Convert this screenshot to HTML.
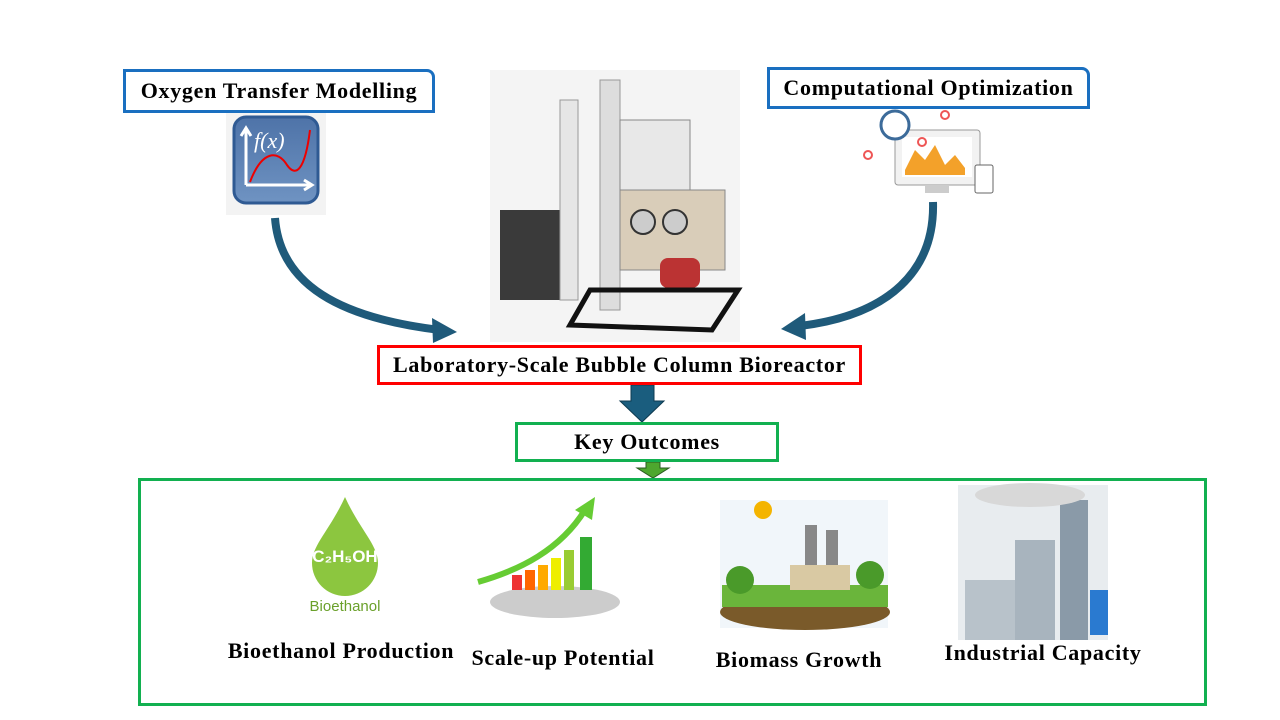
<!DOCTYPE html>
<html><head><style>
body{margin:0;width:1280px;height:720px;background:#fff;position:relative;overflow:hidden;font-family:"Liberation Serif",serif;}
.b{position:absolute;box-sizing:border-box;font-weight:bold;color:#000;display:flex;align-items:center;justify-content:center;background:#fff;letter-spacing:0.7px;}
.t{position:absolute;font-weight:bold;font-size:22px;letter-spacing:0.7px;white-space:nowrap;transform:translateX(-50%);}
</style></head><body>
<svg width="1280" height="720" style="position:absolute;left:0;top:0">
<defs>
<linearGradient id="fx" x1="0" y1="0" x2="0" y2="1"><stop offset="0" stop-color="#4e73a8"/><stop offset="1" stop-color="#6f93c2"/></linearGradient>
</defs>
<rect x="226" y="112" width="100" height="103" fill="#f3f3f3"/>
<rect x="234" y="117" width="84" height="86" rx="12" fill="url(#fx)" stroke="#2f5a93" stroke-width="3"/>
<path d="M246 185 L246 130 M241 136 L246 128 L251 136 M246 185 L310 185 M304 180 L312 185 L304 190" stroke="#fff" stroke-width="3" fill="none"/>
<text x="254" y="148" fill="#fff" font-size="22" font-style="italic" font-family="Liberation Serif">f(x)</text>
<path d="M250 182 C262 150 278 150 287 165 C296 178 305 170 310 130" stroke="#e00" stroke-width="2" fill="none"/>
<rect x="895" y="130" width="85" height="55" rx="3" fill="#f2f2f2" stroke="#999"/>
<rect x="902" y="137" width="70" height="40" fill="#fff"/>
<path d="M905 170 L915 150 L925 160 L935 145 L945 165 L955 155 L965 168 L965 175 L905 175Z" fill="#f3a12a"/>
<circle cx="895" cy="125" r="14" fill="#fff" stroke="#3c6b9a" stroke-width="3"/>
<circle cx="868" cy="155" r="4" fill="none" stroke="#e55" stroke-width="2"/>
<circle cx="922" cy="142" r="4" fill="none" stroke="#e55" stroke-width="2"/>
<circle cx="945" cy="115" r="4" fill="none" stroke="#e55" stroke-width="2"/>
<rect x="975" y="165" width="18" height="28" rx="2" fill="#fff" stroke="#666"/>
<rect x="925" y="185" width="24" height="8" fill="#ccc"/>
<rect x="490" y="70" width="250" height="272" fill="#f4f4f4"/>
<rect x="500" y="210" width="75" height="90" fill="#3a3a3a"/>
<rect x="560" y="100" width="18" height="200" fill="#e6e6e6" stroke="#999"/>
<rect x="600" y="80" width="20" height="230" fill="#ddd" stroke="#999"/>
<rect x="620" y="120" width="70" height="70" fill="#e8e8e8" stroke="#888"/>
<rect x="620" y="190" width="105" height="80" fill="#d9cdb9" stroke="#888"/>
<circle cx="643" cy="222" r="12" fill="#ccc" stroke="#333" stroke-width="2"/>
<circle cx="675" cy="222" r="12" fill="#ccc" stroke="#333" stroke-width="2"/>
<rect x="660" y="258" width="40" height="30" rx="8" fill="#b33"/>
<path d="M570 325 L590 290 L738 290 L712 330 Z" fill="none" stroke="#111" stroke-width="5"/>
<path d="M275 218 C280 285 340 318 440 330" stroke="#1f5a7a" stroke-width="8" fill="none"/>
<polygon points="432,318 457,332 433,343" fill="#1f5a7a"/>
<path d="M933 202 C935 270 890 315 800 326" stroke="#1f5a7a" stroke-width="8" fill="none"/>
<polygon points="805,313 781,329 806,340" fill="#1f5a7a"/>
<polygon points="631,385 654,385 654,401 664,401 642,422 620,401 631,401" fill="#1a5d7e" stroke="#0e3a50"/>
<polygon points="646,462 660,462 660,468 669,468 653,478 637,468 646,468" fill="#4ea72e" stroke="#2a5a20"/>
<path d="M345 497 C330 530 312 545 312 563 A33 33 0 0 0 378 563 C378 545 360 530 345 497Z" fill="#8cc63f"/>
<text x="345" y="562" text-anchor="middle" font-family="Liberation Sans" font-size="17" fill="#fff" font-weight="bold">C₂H₅OH</text>
<text x="345" y="611" text-anchor="middle" font-family="Liberation Sans" font-size="15" fill="#6aa02a">Bioethanol</text>
<ellipse cx="555" cy="602" rx="65" ry="16" fill="#ccc"/>
<rect x="512" y="575" width="10" height="15" fill="#e33"/><rect x="525" y="570" width="10" height="20" fill="#f60"/>
<rect x="538" y="565" width="10" height="25" fill="#fa0"/><rect x="551" y="558" width="10" height="32" fill="#ee0"/>
<rect x="564" y="550" width="10" height="40" fill="#9c3"/><rect x="580" y="537" width="12" height="53" fill="#3a3"/>
<path d="M478 582 C520 570 560 550 585 510" stroke="#6c3" stroke-width="6" fill="none"/>
<polygon points="575,510 595,497 592,520" fill="#6c3"/>
<rect x="720" y="500" width="168" height="128" fill="#f1f6fa"/>
<ellipse cx="805" cy="612" rx="85" ry="18" fill="#7a5a2a"/>
<rect x="722" y="585" width="166" height="22" fill="#6ab53b"/>
<circle cx="763" cy="510" r="9" fill="#f4b400"/>
<rect x="805" y="525" width="12" height="50" fill="#888"/><rect x="826" y="530" width="12" height="45" fill="#888"/>
<rect x="790" y="565" width="60" height="25" fill="#d9c9a3"/>
<circle cx="740" cy="580" r="14" fill="#4a9a2a"/><circle cx="870" cy="575" r="14" fill="#4a9a2a"/>
<rect x="958" y="485" width="150" height="155" fill="#e8ecef"/>
<rect x="1060" y="500" width="28" height="140" fill="#8a9aa8"/>
<rect x="1015" y="540" width="40" height="100" fill="#a8b4be"/>
<rect x="965" y="580" width="50" height="60" fill="#b8c2ca"/>
<rect x="1090" y="590" width="18" height="45" fill="#2a7ad0"/>
<ellipse cx="1030" cy="495" rx="55" ry="12" fill="#d8d8d8"/>
</svg>
<div class="b" style="left:123px;top:69px;width:312px;height:44px;border:3px solid #1a6fc0;font-size:22px;border-top-right-radius:8px">Oxygen Transfer Modelling</div>
<div class="b" style="left:767px;top:67px;width:323px;height:42px;border:3px solid #1a6fc0;font-size:22px;border-top-right-radius:8px">Computational Optimization</div>
<div class="b" style="left:377px;top:345px;width:485px;height:40px;border:3px solid #f00;font-size:22px">Laboratory-Scale Bubble Column Bioreactor</div>
<div class="b" style="left:515px;top:422px;width:264px;height:40px;border:3px solid #12b050;font-size:22px">Key Outcomes</div>
<div class="b" style="left:138px;top:478px;width:1069px;height:228px;border:3px solid #12b050;background:transparent"></div>
<div class="t" style="left:341px;top:638px">Bioethanol Production</div>
<div class="t" style="left:563px;top:645px">Scale-up Potential</div>
<div class="t" style="left:799px;top:647px">Biomass Growth</div>
<div class="t" style="left:1043px;top:640px">Industrial Capacity</div>
</body></html>
